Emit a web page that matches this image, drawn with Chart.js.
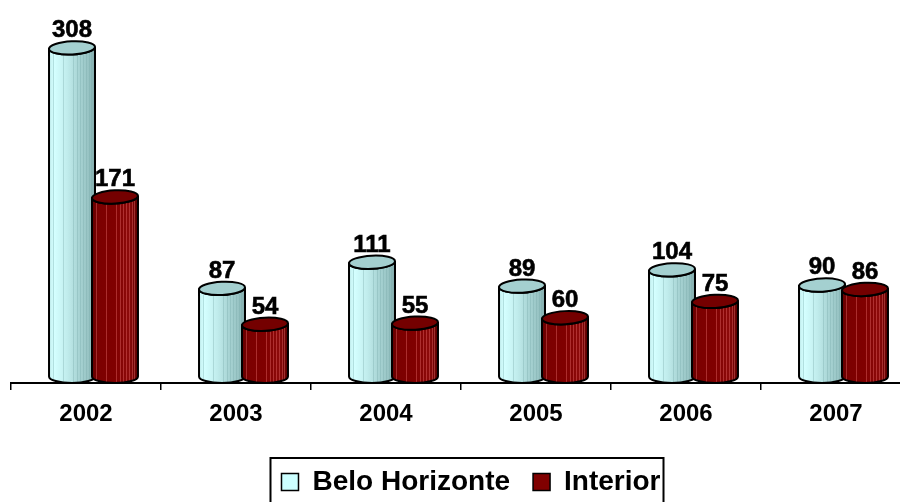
<!DOCTYPE html>
<html>
<head>
<meta charset="utf-8">
<script src="https://cdn.jsdelivr.net/npm/chart.js@4.4.1/dist/chart.umd.min.js"></script>
<style>
  html, body { margin: 0; padding: 0; background: #fff; overflow: hidden; }
  #wrap { width: 900px; height: 502px; overflow: hidden; }
</style>
</head>
<body>
<div id="wrap"><canvas id="chart" width="912" height="506"></canvas></div>
<script>
const categories = ["2002", "2003", "2004", "2005", "2006", "2007"];
const beloHorizonte = [308, 87, 111, 89, 104, 90];
const interior = [171, 54, 55, 60, 75, 86];
const seriesNames = ["Belo Horizonte", "Interior"];

const FONT = "'Liberation Sans', Arial, sans-serif";
const SHIFT = 7.5;   // 3d depth shift of the pair
const RY = 6.6;      // ellipse half height
const LEGEND_SHIFT = 10;

const styles = [
  {
    legend: "#ccffff",
    top: "#a4d0d0",
    stops: [[0, "#c4f0f0"], [0.12, "#d4ffff"], [0.4, "#c0ecec"], [0.65, "#a8d4d4"], [0.88, "#96c2c2"], [1, "#82aaaa"]],
    stripes: "rgba(120,170,170,0.35)"
  },
  {
    legend: "#800000",
    top: "#740000",
    stops: [[0, "#640000"], [0.15, "#7c0000"], [0.5, "#800000"], [0.8, "#8c0a0a"], [1, "#5c0000"]],
    stripes: "rgba(225,100,100,0.45)"
  }
];

function bodyPath(ctx, cx, rx, top, bottom) {
  ctx.beginPath();
  ctx.moveTo(cx - rx, top);
  ctx.lineTo(cx - rx, bottom);
  ctx.ellipse(cx, bottom, rx, RY, 0, Math.PI, 0, true);
  ctx.lineTo(cx + rx, top);
  ctx.ellipse(cx, top, rx, RY, -0.05, 0, Math.PI, false);
  ctx.closePath();
}

function drawCylinder(ctx, bar, st) {
  const cx = bar.x + SHIFT;
  const rx = bar.width / 2 + 1.5;
  const top = bar.y;
  const bottom = bar.base - RY;
  const left = cx - rx, right = cx + rx;

  ctx.save();
  const g = ctx.createLinearGradient(left, 0, right, 0);
  st.stops.forEach(s => g.addColorStop(s[0], s[1]));

  bodyPath(ctx, cx, rx, top, bottom);
  ctx.fillStyle = g;
  ctx.fill();

  // vertical texture stripes
  ctx.save();
  ctx.clip();
  ctx.strokeStyle = st.stripes;
  ctx.lineWidth = 1;
  [0.08, 0.3, 0.52, 0.6, 0.68, 0.74, 0.8, 0.86, 0.92].forEach(f => {
    const x = Math.round(left + f * 2 * rx) + 0.5;
    ctx.beginPath();
    ctx.moveTo(x, top);
    ctx.lineTo(x, bar.base + 2);
    ctx.stroke();
  });
  ctx.restore();

  bodyPath(ctx, cx, rx, top, bottom);
  ctx.strokeStyle = "#000";
  ctx.lineWidth = 2;
  ctx.stroke();

  ctx.beginPath();
  ctx.ellipse(cx, top, rx, RY, -0.05, 0, Math.PI * 2);
  ctx.fillStyle = st.top;
  ctx.fill();
  ctx.stroke();
  ctx.restore();
}

const cylinders = {
  id: "cylinders",
  afterDatasetsDraw(chart) {
    const ctx = chart.ctx;
    chart.data.datasets.forEach((ds, i) => {
      chart.getDatasetMeta(i).data.forEach(bar => drawCylinder(ctx, bar, styles[i]));
    });
    ctx.save();
    ctx.font = "bold 24px " + FONT;
    ctx.fillStyle = "#000";
    ctx.strokeStyle = "#000";
    ctx.lineWidth = 0.6;
    ctx.textAlign = "center";
    ctx.textBaseline = "alphabetic";
    chart.data.datasets.forEach((ds, i) => {
      chart.getDatasetMeta(i).data.forEach((bar, j) => {
        const x = bar.x + SHIFT, y = bar.y - RY - 4;
        ctx.fillText(String(ds.data[j]), x, y);
        ctx.strokeText(String(ds.data[j]), x, y);
      });
    });
    ctx.restore();
  }
};

const legendBorder = {
  id: "legendBorder",
  afterUpdate(chart) {
    // nudge the legend a little to the right, like the original
    const lg = chart.legend;
    lg.left += LEGEND_SHIFT;
    lg.right += LEGEND_SHIFT;
    lg.legendHitBoxes.forEach(b => { b.left += LEGEND_SHIFT; });
  },
  afterDraw(chart) {
    const boxes = chart.legend.legendHitBoxes;
    if (!boxes || !boxes.length) return;
    const minX = Math.min(...boxes.map(b => b.left));
    const maxX = Math.max(...boxes.map(b => b.left + b.width));
    const ctx = chart.ctx;
    ctx.save();
    ctx.strokeStyle = "#000";
    ctx.lineWidth = 2;
    ctx.strokeRect(minX - 11, boxes[0].top - 10, maxX - minX + 14, 70);
    ctx.restore();
  }
};

new Chart(document.getElementById("chart"), {
  type: "bar",
  data: {
    labels: categories,
    datasets: [
      { label: seriesNames[0], data: beloHorizonte, backgroundColor: "rgba(0,0,0,0)", borderWidth: 0,
        categoryPercentage: 0.573, barPercentage: 1 },
      { label: seriesNames[1], data: interior, backgroundColor: "rgba(0,0,0,0)", borderWidth: 0,
        categoryPercentage: 0.573, barPercentage: 1 }
    ]
  },
  options: {
    responsive: false,
    animation: false,
    layout: { padding: { left: 11, right: 1, top: 0, bottom: 0 } },
    scales: {
      x: {
        grid: { display: true, drawOnChartArea: false, drawTicks: true, tickLength: 7, color: "#000", lineWidth: 1.5 },
        border: { display: true, color: "#000", width: 2 },
        ticks: { color: "#000", padding: 10, font: { family: FONT, size: 24, weight: "bold" } },
        afterFit: s => { s.height = 62; }
      },
      y: { display: false, min: 0, max: 352 }
    },
    plugins: {
      tooltip: { enabled: false },
      legend: {
        position: "bottom",
        labels: {
          boxWidth: 17,
          boxHeight: 17,
          padding: 23,
          color: "#000",
          font: { family: FONT, size: 28, weight: "bold" },
          generateLabels: chart => chart.data.datasets.map((ds, i) => ({
            text: ds.label,
            fillStyle: styles[i].legend,
            strokeStyle: "#000",
            lineWidth: 1.5,
            fontColor: "#000",
            hidden: false,
            datasetIndex: i
          }))
        }
      }
    }
  },
  plugins: [cylinders, legendBorder]
});
</script>
</body>
</html>
